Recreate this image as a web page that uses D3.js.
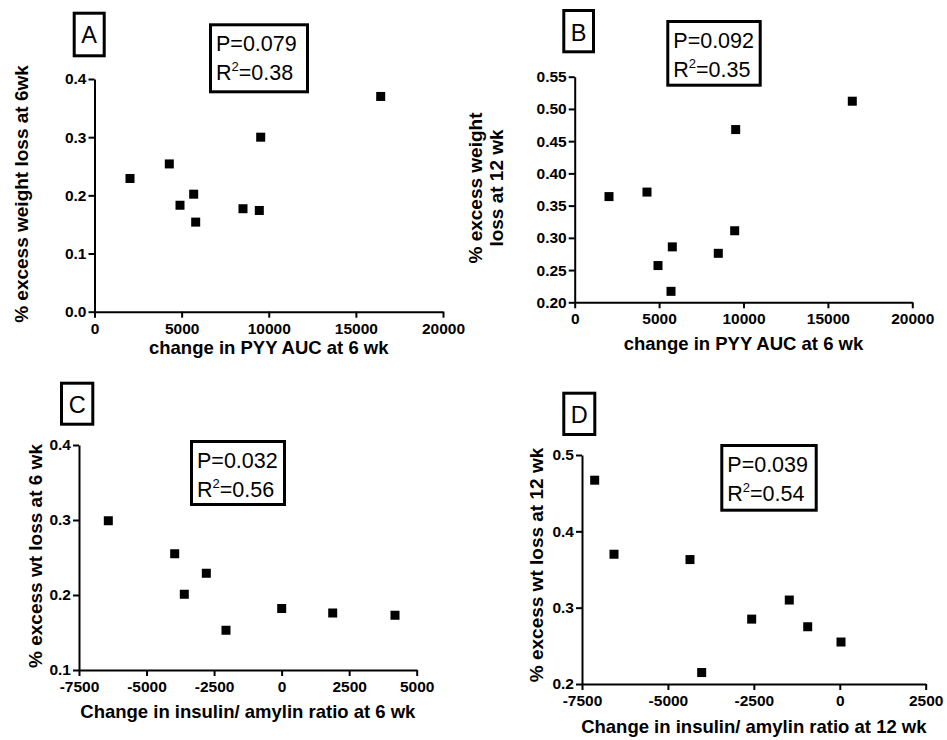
<!DOCTYPE html>
<html>
<head>
<meta charset="utf-8">
<script src="https://cdn.jsdelivr.net/npm/d3@7"></script>
<style>
  html, body { margin: 0; padding: 0; background: #fff; }
  svg { display: block; font-family: "Liberation Sans", Arial, sans-serif; }
</style>
</head>
<body>
<svg id="chart" width="947" height="740"></svg>
<script>
// ---- Data ----
const pyyA   = [2037, 4293, 4907, 5692, 5807, 8522, 9458, 9538, 16425];
const ewlA   = [0.229, 0.254, 0.183, 0.202, 0.154, 0.177, 0.174, 0.300, 0.370];
const pyyB   = [2032, 4283, 4935, 5783, 5705, 8507, 9478, 9537, 16445];
const ewlB   = [0.364, 0.371, 0.257, 0.286, 0.217, 0.276, 0.311, 0.468, 0.512];
const ratioC = [-6415, -3958, -3602, -2787, -2059, 3, 1891, 4197];
const ewlC   = [0.299, 0.255, 0.201, 0.229, 0.153, 0.182, 0.176, 0.173];
const ratioD = [-7131, -6569, -4358, -4018, -2563, -1469, -933, 36];
const ewlD   = [0.467, 0.370, 0.363, 0.215, 0.285, 0.310, 0.275, 0.255];

// ---- Tick values ----
const ticksPYY = [0, 5000, 10000, 15000, 20000];
const ticksAy  = [0.0, 0.1, 0.2, 0.3, 0.4];
const ticksBy  = [0.20, 0.25, 0.30, 0.35, 0.40, 0.45, 0.50, 0.55];
const ticksCx  = [-7500, -5000, -2500, 0, 2500, 5000];
const ticksCy  = [0.1, 0.2, 0.3, 0.4];
const ticksDx  = [-7500, -5000, -2500, 0, 2500];
const ticksDy  = [0.2, 0.3, 0.4, 0.5];

// ---- Texts ----
const panelLetters = ["A", "B", "C", "D"];
const pValues  = ["0.079", "0.092", "0.032", "0.039"];
const r2Values = ["0.38", "0.35", "0.56", "0.54"];
const xTitles = ["change in PYY AUC at 6 wk", "change in PYY AUC at 6 wk",
                 "Change in insulin/ amylin ratio at 6 wk", "Change in insulin/ amylin ratio at 12 wk"];
const yTitles = [["% excess weight loss at 6wk"], ["% excess weight", "loss at 12 wk"],
                 ["% excess wt loss at 6 wk"], ["% excess wt loss at 12 wk"]];

// ---- Layout (pixels) ----
const panels = [
  { xs: pyyA, ys: ewlA, xd: [0, 20000], yd: [0, 0.4], xt: ticksPYY, yt: ticksAy, yf: ".1f",
    x0: 94.5, x1: 443, yTop: 79, yBot: 311.7,
    lab: [72.7, 11.7, 105.7, 57.3], stat: [209, 23.3, 309, 93.3],
    yTitleX: [28], yTitleY: 194, xTitleY: 354 },
  { xs: pyyB, ys: ewlB, xd: [0, 20000], yd: [0.2, 0.55], xt: ticksPYY, yt: ticksBy, yf: ".2f",
    x0: 574.7, x1: 912.3, yTop: 76.7, yBot: 302.3,
    lab: [562.3, 9, 595, 53.3], stat: [666.3, 20, 761.7, 86.7],
    yTitleX: [482, 503], yTitleY: 188, xTitleY: 350 },
  { xs: ratioC, ys: ewlC, xd: [-7500, 5000], yd: [0.1, 0.4], xt: ticksCx, yt: ticksCy, yf: ".1f",
    x0: 79, x1: 416.7, yTop: 445, yBot: 670,
    lab: [60, 381.7, 94.3, 425.7], stat: [190, 440, 286, 506],
    yTitleX: [41.5], yTitleY: 556, xTitleY: 718 },
  { xs: ratioD, ys: ewlD, xd: [-7500, 2500], yd: [0.2, 0.5], xt: ticksDx, yt: ticksDy, yf: ".1f",
    x0: 582, x1: 925.7, yTop: 455, yBot: 684,
    lab: [562.3, 391.7, 596.3, 436], stat: [720.3, 444, 817.7, 511.7],
    yTitleX: [543], yTitleY: 565, xTitleY: 733 }
];

const svg = d3.select("#chart");
const SW = 3; // box border width

function styleAxis(a) {
  a.select(".domain").attr("stroke", "#000").attr("stroke-width", 2);
  a.selectAll(".tick line").attr("stroke", "#000").attr("stroke-width", 2);
  a.selectAll(".tick text")
    .attr("fill", "#000")
    .attr("font-size", 15.5)
    .attr("font-weight", "bold")
    .attr("font-family", "Liberation Sans, Arial, sans-serif")
    .style("font-size", "15.5px")
    .style("font-weight", "bold");
}

panels.forEach((p, i) => {
  const x = d3.scaleLinear().domain(p.xd).range([p.x0, p.x1]);
  const y = d3.scaleLinear().domain(p.yd).range([p.yBot, p.yTop]);
  const g = svg.append("g");

  // x axis
  const gx = g.append("g")
    .attr("transform", `translate(0,${p.yBot})`)
    .call(d3.axisBottom(x).tickValues(p.xt).tickFormat(d => String(d))
      .tickSizeInner(6).tickSizeOuter(0).tickPadding(5));
  styleAxis(gx);
  // y axis
  const gy = g.append("g")
    .attr("transform", `translate(${p.x0},0)`)
    .call(d3.axisLeft(y).tickValues(p.yt).tickFormat(d3.format(p.yf))
      .tickSizeInner(6).tickSizeOuter(0).tickPadding(2));
  styleAxis(gy);

  // points
  g.append("g").selectAll("rect")
    .data(p.xs.map((v, k) => [v, p.ys[k]]))
    .join("rect")
    .attr("x", d => x(d[0]) - 4.5)
    .attr("y", d => y(d[1]) - 4.5)
    .attr("width", 9)
    .attr("height", 9)
    .attr("fill", "#000");

  // x title
  g.append("text")
    .attr("x", (p.x0 + p.x1) / 2)
    .attr("y", p.xTitleY)
    .attr("text-anchor", "middle")
    .style("font-size", "18.5px")
    .style("font-weight", "bold")
    .text(xTitles[i]);

  // y title (rotated)
  yTitles[i].forEach((line, k) => {
    g.append("text")
      .attr("transform", `translate(${p.yTitleX[k]},${p.yTitleY}) rotate(-90)`)
      .attr("text-anchor", "middle")
      .style("font-size", "19px")
      .style("font-weight", "bold")
      .text(line);
  });

  // panel letter box
  const L = p.lab;
  g.append("rect")
    .attr("x", L[0] + SW / 2).attr("y", L[1] + SW / 2)
    .attr("width", L[2] - L[0] - SW).attr("height", L[3] - L[1] - SW)
    .attr("fill", "#fff").attr("stroke", "#000").attr("stroke-width", SW);
  g.append("text")
    .attr("x", (L[0] + L[2]) / 2)
    .attr("y", L[1] + 31.5)
    .attr("text-anchor", "middle")
    .style("font-size", "23.5px")
    .text(panelLetters[i]);

  // stats box
  const S = p.stat;
  g.append("rect")
    .attr("x", S[0] + SW / 2).attr("y", S[1] + SW / 2)
    .attr("width", S[2] - S[0] - SW).attr("height", S[3] - S[1] - SW)
    .attr("fill", "#fff").attr("stroke", "#000").attr("stroke-width", SW);
  g.append("text")
    .attr("x", S[0] + 7)
    .attr("y", S[1] + 28)
    .style("font-size", "21.5px")
    .text("P=" + pValues[i]);
  const r = g.append("text")
    .attr("x", S[0] + 7)
    .attr("y", S[1] + 56.5)
    .style("font-size", "21.5px");
  r.append("tspan").text("R");
  r.append("tspan").attr("dy", -9).style("font-size", "13px").text("2");
  r.append("tspan").attr("dy", 9).text("=" + r2Values[i]);
});
</script>
</body>
</html>
